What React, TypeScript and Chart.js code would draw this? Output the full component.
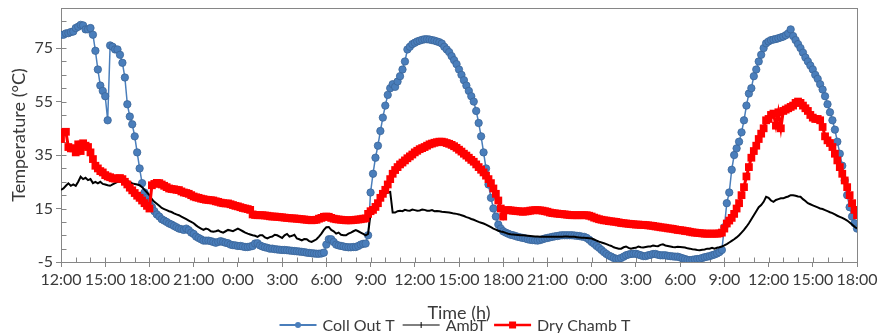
import React, { useEffect, useRef } from 'react';
import { Chart, registerables } from 'chart.js';

Chart.register(...registerables);

// ---- data (sampled every 10 minutes, starting 12:00) ----
const SAMPLE_MINUTES = 10;
const X_MAX_HOURS = 54;
const Y_MIN = -5;
const Y_MAX = 90;
const Y_TICK_LABELS = [-5, 15, 35, 55, 75];
const X_TICK_LABELS = [
  '12:00', '15:00', '18:00', '21:00', '0:00', '3:00', '6:00', '9:00',
  '12:00', '15:00', '18:00', '21:00', '0:00', '3:00', '6:00', '9:00',
  '12:00', '15:00', '18:00',
];
const SERIES_LABELS = ['Coll Out T', 'AmbT', 'Dry Chamb T'];

const collOutT = [
  80, 80, 80.5, 80.6, 81, 81.2, 82.5, 83, 83.7, 83.5, 82, 82, 82.5, 80, 74, 67, 61, 59,
  57, 48, 76, 75.5, 74.5, 74.5, 72.5, 69.5, 64, 54, 49.4, 46.5, 42, 36, 30, 24.5, 21, 19,
  17.5, 15.6, 14, 12.8, 12, 11, 10.5, 10, 9.4, 9, 8.5, 8, 7.5, 7.3, 7, 7.5, 6.9, 6,
  5.5, 4.5, 4, 3.5, 3, 3, 3, 2.8, 2.5, 2.2, 2.5, 2.8, 2.5, 2.2, 2, 1.5, 1.3, 1.2,
  1, 1, 0.8, 0.6, 0.6, 0.8, 1, 1.9, 2, 1.2, 0.8, 0.5, 0.3, 0, 0, -0.2, -0.3, -0.4,
  -0.5, -0.5, -0.6, -0.7, -0.8, -0.9, -1, -1.1, -1.2, -1.3, -1.5, -1.6, -1.7, -1.8, -1.9, -1.9, -1.8, -1.5,
  1.5, 3.5, 3.5, 2.5, 1.5, 1.2, 1, 0.8, 0.6, 0.5, 0.5, 0.6, 0.6, 1, 1.5, 1.8, 1.9, 5,
  21, 28, 34, 38.5, 44, 49, 53.5, 57.5, 60, 61.5, 60.5, 62.5, 64.5, 67, 70, 74.5, 75.5, 76.5,
  77, 77.5, 77.8, 78.1, 78.3, 78.3, 78.2, 78, 77.8, 77.5, 77.2, 76.7, 75.5, 74.5, 73.5, 72, 70.5, 69,
  67, 65, 63, 61, 59, 57, 55, 51.5, 47, 42, 36, 30, 24, 19, 15, 12, 9, 7.5,
  6.5, 6, 5.6, 5.2, 5, 4.7, 4.4, 4.2, 4, 3.8, 3.5, 3.3, 3.2, 3.1, 3, 3.2, 3.5, 3.8,
  4, 4.2, 4.4, 4.6, 4.7, 4.9, 5, 5, 5, 5, 5, 4.9, 4.8, 4.7, 4.5, 4.4, 4, 3.3,
  2.5, 1.8, 1, 0.3, -0.5, -1.3, -2, -2.6, -3, -3.5, -3.8, -3.8, -3.5, -3, -2.5, -2.2, -2, -1.9,
  -1.9, -2.2, -2.5, -2.8, -2.8, -2.5, -2.3, -2, -2, -2.3, -2.5, -2.5, -2.5, -2.7, -2.8, -2.9, -3, -3,
  -3.3, -3.6, -3.9, -4.2, -4.3, -4.2, -4, -3.9, -3.8, -3.5, -3.2, -3, -2.8, -2.5, -2.2, -1.8, -1.3, -0.5,
  8, 17, 21, 29.5, 35, 37.5, 40, 43.5, 48, 53.5, 58, 60, 64.5, 67, 70, 72.5, 75, 76.8,
  77.5, 78, 78.2, 78.4, 78.7, 79, 79.3, 79.8, 80.5, 82, 79.5, 78, 76.5, 75, 73.3, 71.5, 70, 68.5,
  67, 65, 63.5, 61.5, 59.5, 57, 54, 51, 48, 44.5, 40, 35.5, 31, 25.5, 20, 15.5, 12, 9.5,
  7.5,
];

const ambT = [
  22, 22.5, 23.5, 24.4, 23.5, 24, 23.5, 25, 26.9, 26, 26.5, 25.6, 26, 24.5, 25, 24.4, 25, 24.2,
  24, 23.7, 23.5, 24, 24.5, 25, 25, 25.5, 25.5, 25.3, 25, 24.4, 24.2, 24, 23.7, 23, 22, 21,
  20, 18.5, 17.5, 16.8, 16, 15.2, 14.8, 14.4, 14, 13.7, 13.2, 12.8, 12.5, 12, 11.5, 11, 10.5, 10,
  9.5, 8.7, 8, 7.5, 7, 7.5, 7.2, 6.5, 6.3, 6.5, 6.8, 6.3, 6, 6.5, 7, 6.8, 6.5, 7,
  7.5, 7, 6.5, 6, 5.6, 5.3, 5, 4.8, 4.4, 5, 5, 4.2, 3.8, 4.3, 4.5, 5.2, 5, 4.5,
  4, 5, 5.5, 4.5, 4.8, 5.2, 3.8, 3.5, 3.1, 3.6, 3.5, 2.8, 2.5, 3, 3.5, 4.5, 5.6, 7,
  8, 8.1, 7, 6.5, 5.6, 6, 5.2, 5, 5, 5.6, 6, 6.5, 6.9, 6.5, 6, 5.5, 5, 5.5,
  13, 15, 16.5, 18, 19, 19.8, 20.5, 21, 21.2, 13.5, 13.5, 14, 14.2, 14, 14.5, 14.3, 14.2, 14.6,
  14.4, 14.2, 14.3, 14.6, 14.5, 14.2, 14.2, 14.4, 14, 14.1, 14, 13.8, 13.7, 13.6, 13.5, 13.3, 13.1, 13,
  12.8, 12.5, 12.2, 11.8, 11.5, 11.1, 10.8, 10.4, 10, 9.7, 9.4, 9, 8.5, 8, 7.5, 7.1, 6.7, 6.4,
  6.2, 5.9, 5.6, 5.4, 5.3, 5.2, 5.1, 5, 5, 4.9, 4.8, 4.7, 4.6, 4.5, 4.5, 4.4, 4.4, 4.4,
  4.4, 4.4, 4.4, 4.4, 4.4, 4.4, 4.4, 4.5, 4.5, 4.4, 4.4, 4.4, 4.3, 4.2, 4.1, 4.1, 4, 3.9,
  3.8, 3.4, 3, 2.6, 2.3, 2, 1.7, 1.3, 1, 0.5, 0.2, 0, 0, 0.5, 0.8, 0.3, 0, 0.2,
  0.3, 0.8, 0.5, 0.4, 0.6, 0.8, 0.8, 1.2, 1, 0.9, 1.4, 1.6, 1.2, 1, 0.8, 0.6, 0.5, 0.7,
  0.6, 0.5, 0.4, 0.1, 0, -0.2, -0.3, -0.5, -0.6, -0.4, -0.3, 0, 0, 0.3, 0, 0.3, 0.5, 0.8,
  1.2, 1.7, 2.3, 2.9, 3.5, 4.2, 5, 6, 7, 8.2, 9.5, 11, 12.5, 14, 15.5, 16.3, 17.5, 19.4,
  19, 18, 17.5, 18.2, 18.5, 18.8, 18.8, 19.2, 19.5, 20, 20, 19.8, 19.5, 19.4, 18.5, 17.8, 17, 16.6,
  16.2, 15.8, 15.4, 15, 14.8, 14.4, 14, 13.6, 13.3, 12.8, 12.3, 11.9, 11.5, 11, 10.5, 9.8, 9, 8.2,
  7.5,
];

const dryChambT = [
  41, 43.5, 43.7, 38, 37.5, 37.5, 36, 39, 36.5, 39.4, 38.5, 38, 36, 33.5, 31, 30, 29, 28.5,
  27.5, 27, 26.7, 26.3, 26.2, 26.2, 26.4, 26, 25, 24, 22.8, 21.8, 20.8, 19.8, 19, 18, 17, 16,
  15, 23.7, 24.2, 24.6, 24.5, 24, 23.5, 23, 22.5, 22.3, 22.2, 22, 21.9, 21.4, 21, 20.8, 20.5, 20,
  19.5, 19.2, 19, 18.7, 18.5, 18.3, 18.2, 18.1, 18, 17.7, 17.5, 17.2, 17, 16.9, 16.9, 16.6, 16.3, 16,
  15.8, 15.5, 15.2, 15, 14.8, 14.5, 12.8, 12.6, 12.5, 12.5, 12.5, 12.4, 12.3, 12.1, 12, 12, 11.9, 11.8,
  11.7, 11.6, 11.5, 11.4, 11.3, 11.3, 11.2, 11.1, 11, 10.9, 10.8, 10.7, 10.6, 10.7, 10.8, 11.2, 11.5, 11.9,
  12, 11.9, 11.5, 11.2, 11, 10.9, 10.8, 10.7, 10.6, 10.6, 10.6, 10.7, 10.8, 10.9, 11, 11.2, 11.3, 13,
  14, 14.5, 15.6, 17, 19, 20.5, 22, 24, 26, 28, 29.4, 30.5, 31.5, 32.2, 33, 33.8, 34.5, 35.2,
  36, 36.6, 37.2, 37.6, 38, 38.5, 39, 39.3, 39.6, 39.8, 40, 40, 39.8, 39.5, 39.2, 38.8, 38.3, 37.7,
  37, 36.3, 35.5, 34.8, 34, 33.2, 32.5, 31.5, 30.5, 29.5, 28.5, 27.3, 26, 24.5, 22.5, 20.5, 18, 15,
  12, 14.4, 14.4, 14.3, 14.2, 14.1, 14, 13.9, 13.8, 13.9, 14, 14.2, 14.3, 14.4, 14.4, 14.3, 14.2, 14,
  13.8, 13.5, 13.3, 13.2, 13.1, 13, 12.9, 12.8, 12.7, 12.6, 12.5, 12.5, 12.5, 12.5, 12.5, 12.5, 12.5, 12.3,
  12, 11.6, 11.3, 11, 10.8, 10.6, 10.5, 10.3, 10.2, 10.1, 10, 9.8, 9.6, 9.5, 9.4, 9.3, 9.2, 9.1,
  9, 9, 8.9, 8.9, 8.8, 8.7, 8.6, 8.5, 8.3, 8.2, 8, 7.9, 7.8, 7.6, 7.5, 7.4, 7.2, 7,
  6.9, 6.8, 6.6, 6.5, 6.3, 6.1, 6, 5.9, 5.8, 5.7, 5.6, 5.6, 5.6, 5.6, 5.6, 5.6, 5.7, 6,
  7.5, 9.4, 10.5, 11.5, 13, 15, 17, 20, 23, 27, 30.5, 34, 36.5, 38.5, 41, 43, 45, 48,
  48.5, 50, 50.5, 46, 51, 45, 51.5, 52, 52.5, 53, 53.5, 54.5, 55, 54.5, 53.5, 52.5, 51.5, 50,
  49, 48.5, 48.5, 48, 45.5, 42, 40.5, 39.5, 38, 35.5, 33, 30.5, 28, 25.5, 23, 20, 17, 14.5,
  12.5,
];

// ---- styling ----
const FONT = 'Lato, "Open Sans", sans-serif';
const AXIS = '#868686';
const TEXT = '#3a3a3a';
const BLUE = '#4A7EBB';
const BLUE_DARK = '#3B6699';
const RED = '#FF0000';
const BLACK = '#000000';

export default function App() {
  const ref = useRef<HTMLCanvasElement>(null);

  useEffect(() => {
    const canvas = ref.current;
    if (!canvas) return;
    const toPoints = (vals: number[]) =>
      vals.map((v, i) => ({ x: (i * SAMPLE_MINUTES) / 60, y: v }));

    const framePlugin = {
      id: 'frameAndMinorTicks',
      beforeDatasetsDraw(chart: any) {
        const { ctx, chartArea: a, scales } = chart;
        ctx.save();
        ctx.strokeStyle = AXIS;
        ctx.lineWidth = 1;
        const l = Math.round(a.left) + 0.5;
        const t = Math.round(a.top) + 0.5;
        const r = Math.round(a.right) + 0.5;
        const b = Math.round(a.bottom) + 0.5;
        ctx.strokeRect(l, t, r - l, b - t);
        ctx.beginPath();
        for (let h = 0; h <= X_MAX_HOURS; h++) {
          const px = Math.round(scales.x.getPixelForValue(h)) + 0.5;
          ctx.moveTo(px, b);
          ctx.lineTo(px, b - 5);
        }
        for (let v = Y_MIN; v <= Y_MAX; v += 5) {
          const py = Math.round(scales.y.getPixelForValue(v)) + 0.5;
          ctx.moveTo(l, py);
          ctx.lineTo(l + 5, py);
        }
        ctx.stroke();
        ctx.restore();
      },
    };

    const legendPlugin = {
      id: 'excelLegend',
      afterDraw(chart: any) {
        const { ctx, chartArea: a } = chart;
        ctx.save();
        ctx.font = `16px ${FONT}`;
        ctx.textBaseline = 'middle';
        ctx.textAlign = 'left';
        const lineLen = 37;
        const gapLine = 6;
        const gapItem = 8;
        const widths = SERIES_LABELS.map((s) => ctx.measureText(s).width);
        let total = 0;
        widths.forEach((w, i) => {
          total += lineLen + gapLine + w + (i < widths.length - 1 ? gapItem : 0);
        });
        let x = (a.left + a.right) / 2 - total / 2 - 4;
        const y = 325;
        const colors = [BLUE, BLACK, RED];
        SERIES_LABELS.forEach((label, i) => {
          ctx.strokeStyle = colors[i];
          ctx.lineWidth = i === 1 ? 1 : i === 2 ? 2.5 : 2;
          ctx.beginPath();
          ctx.moveTo(x, y);
          ctx.lineTo(x + lineLen, y);
          ctx.stroke();
          const cx = x + lineLen / 2;
          if (i === 0) {
            ctx.fillStyle = BLUE;
            ctx.beginPath();
            ctx.arc(cx, y, 3, 0, Math.PI * 2);
            ctx.fill();
          } else if (i === 1) {
            ctx.lineWidth = 1;
            ctx.beginPath();
            ctx.moveTo(cx, y - 3);
            ctx.lineTo(cx, y + 3);
            ctx.stroke();
          } else {
            ctx.fillStyle = RED;
            ctx.fillRect(cx - 3.5, y - 3.5, 7, 7);
          }
          ctx.fillStyle = TEXT;
          ctx.fillText(label, x + lineLen + gapLine, y + 1);
          x += lineLen + gapLine + widths[i] + gapItem;
        });
        ctx.restore();
      },
    };

    const chart = new Chart(canvas, {
      type: 'line',
      data: {
        datasets: [
          {
            label: SERIES_LABELS[0],
            data: toPoints(collOutT),
            borderColor: BLUE,
            borderWidth: 1.5,
            backgroundColor: BLUE,
            pointStyle: 'circle',
            pointRadius: 3.7,
            pointBackgroundColor: BLUE,
            pointBorderColor: BLUE_DARK,
            pointBorderWidth: 0.8,
            tension: 0,
            order: 2,
          },
          {
            label: SERIES_LABELS[1],
            data: toPoints(ambT),
            borderColor: BLACK,
            borderWidth: 2,
            backgroundColor: BLACK,
            pointRadius: 0,
            tension: 0,
            order: 1,
          },
          {
            label: SERIES_LABELS[2],
            data: toPoints(dryChambT),
            borderColor: RED,
            borderWidth: 3,
            backgroundColor: RED,
            pointStyle: 'rect',
            pointRadius: 5.5,
            pointBackgroundColor: RED,
            pointBorderColor: RED,
            pointBorderWidth: 0,
            tension: 0,
            order: 0,
          },
        ],
      },
      options: {
        responsive: false,
        devicePixelRatio: 1,
        animation: false,
        events: [],
        layout: { padding: { top: 8, right: 22, left: 0, bottom: 0 } },
        plugins: {
          legend: { display: false },
          tooltip: { enabled: false },
        },
        scales: {
          x: {
            type: 'linear',
            min: 0,
            max: X_MAX_HOURS,
            border: { display: false },
            grid: {
              drawOnChartArea: false,
              drawTicks: true,
              tickLength: 5,
              tickColor: (c: any) =>
                c.tick && Number(c.tick.value) % 3 === 0 ? AXIS : 'rgba(0,0,0,0)',
            },
            ticks: {
              stepSize: 1,
              autoSkip: false,
              maxRotation: 0,
              minRotation: 0,
              padding: 3,
              color: TEXT,
              font: { family: FONT, size: 16 },
              callback: (v: any) => {
                const n = Number(v);
                return n % 3 === 0 ? X_TICK_LABELS[n / 3] : '';
              },
            },
            title: {
              display: true,
              text: 'Time (h)',
              color: TEXT,
              font: { family: FONT, size: 18 },
              padding: { top: 0, bottom: 9 },
            },
            afterFit: (s: any) => {
              s.height = 71;
              s.paddingLeft = 0;
              s.paddingRight = 0;
            },
          },
          y: {
            type: 'linear',
            min: Y_MIN,
            max: Y_MAX,
            border: { display: false },
            grid: {
              drawOnChartArea: false,
              drawTicks: true,
              tickLength: 5,
              tickColor: (c: any) =>
                c.tick && Y_TICK_LABELS.includes(Number(c.tick.value)) ? AXIS : 'rgba(0,0,0,0)',
            },
            ticks: {
              stepSize: 5,
              padding: 3,
              color: TEXT,
              font: { family: FONT, size: 16 },
              callback: (v: any) =>
                Y_TICK_LABELS.includes(Number(v)) ? String(v) : '',
            },
            title: {
              display: true,
              text: 'Temperature (°C)',
              color: TEXT,
              font: { family: FONT, size: 18 },
              padding: { top: 8, bottom: 0 },
            },
            afterFit: (s: any) => {
              s.width = 61;
              s.paddingTop = 0;
              s.paddingBottom = 0;
            },
          },
        },
      },
      plugins: [framePlugin, legendPlugin],
    });

    return () => chart.destroy();
  }, []);

  return (
    <div
      style={{
        position: 'absolute',
        left: 0,
        top: 0,
        width: 879,
        height: 333,
        background: '#ffffff',
        overflow: 'hidden',
      }}
    >
      <canvas ref={ref} width={879} height={333} style={{ display: 'block' }} />
    </div>
  );
}
